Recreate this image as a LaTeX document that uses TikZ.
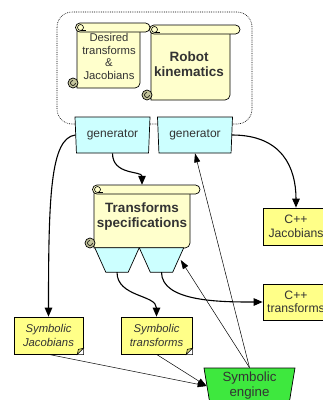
\documentclass[tikz,border=0pt]{standalone}
\usepackage{fontspec}
\setmainfont{Liberation Sans}
\usetikzlibrary{shapes.geometric,arrows.meta}
\definecolor{parchment}{HTML}{FFFFCC}
\definecolor{curlgray}{HTML}{C4C49C}
\definecolor{genblue}{HTML}{CCFFFF}
\definecolor{codeyellow}{HTML}{FFFF88}
\definecolor{foldyellow}{HTML}{D8D870}
\definecolor{enginegreen}{HTML}{3EE83E}
\definecolor{ink}{HTML}{333333}
\tikzset{
  paper/.style={fill=parchment,draw=black,line width=0.7pt},
  % rolled sheet: #1 width up to the end of the roll, #2 height
  pics/scroll/.style n args={2}{code={
    \filldraw[paper] (0,4) -- (0,#2) [rounded corners=5pt] -- (#1-10,#2) -- (#1-10,4) -- cycle;
    \filldraw[paper,rounded corners=4.5pt] (-1.5,0) rectangle (#1,9);
    \draw[line width=0.6pt] (3.5,4.5) circle (3);
    \draw[line width=0.6pt] (3.5,7.5) -- (9,7.5);
    \filldraw[paper,fill=curlgray] (-4,#2-5) circle (5);
    \draw[line width=0.6pt] (-1.5,#2-5) arc (0:270:2.5);
  }},
  sheettext/.style={align=center,text=ink,inner sep=0pt},
  gen/.style={trapezium,shape border rotate=180,trapezium stretches body,
    trapezium angle=82,minimum width=75pt,minimum height=36pt,inner sep=0pt,
    fill=genblue,draw=black,line width=0.7pt,text=ink,font=\fontsize{12}{14}\selectfont},
  hopper/.style={rectangle,minimum width=44pt,minimum height=24pt,inner sep=0pt},
  cppbox/.style={rectangle,fill=codeyellow,draw=black,line width=0.7pt,
    minimum width=66pt,minimum height=37pt,inner sep=0pt,align=center,text=ink,
    font=\fontsize{12.2}{13.5}\selectfont},
  note/.style={cppbox,font=\fontsize{11.3}{14}\selectfont\itshape},
  link/.style={line width=1.1pt,-{Triangle[length=9pt,width=7.5pt]}},
  feed/.style={line width=0.5pt,-{Triangle[length=9pt,width=6pt]}},
}
\begin{document}
\begin{tikzpicture}[x=1pt,y=-1pt]
\useasboundingbox (0,0) rectangle (323,400);
\clip (0,0) rectangle (323,400);
\fill[white] (0,0) rectangle (323,400);
%inputs
\draw[line width=0.6pt,dash pattern=on 0.8pt off 1pt,rounded corners=15pt] (57,12) rectangle (252,124);
\pic at (77,23) {scroll={73}{65}};
\pic at (151,25) {scroll={89}{75}};
\node[sheettext,font=\fontsize{11.3}{12.4}\selectfont,minimum width=63pt,minimum height=65pt] (desired) at (109,56.5) {Desired\\transforms\\\&\\Jacobians};
\node[sheettext,font=\fontsize{13.5}{15.5}\selectfont\bfseries,minimum width=79pt,minimum height=75pt] (robot) at (189,64) {Robot\\kinematics};
\node[gen] (gen1) at (112.5,135) {generator};
\node[gen] (gen2) at (195,135) {generator};
%specification
\pic at (94,185) {scroll={106}{63}};
\node[sheettext,font=\fontsize{13.5}{15.5}\selectfont\bfseries,minimum width=96pt,minimum height=63pt] (spec) at (142,216.5) {Transforms\\specifications};
\node[hopper] (tr1) at (117,260) {};
\node[hopper] (tr2) at (161.5,260) {};
\foreach \n in {tr1,tr2}
  \filldraw[fill=genblue,line width=0.7pt] (\n.north west) -- (\n.north east) -- ([xshift=-11pt]\n.south east) -- ([xshift=11pt]\n.south west) -- cycle;
%outputs
\node[cppbox] (cppjac) at (296,226.5) {C++\\Jacobians};
\node[cppbox,minimum height=36pt] (cpptr) at (296,302) {C++\\transforms};
\node[note,minimum width=69pt] (symjac) at (48.5,335.5) {Symbolic\\Jacobians};
\node[note,minimum width=71pt] (symtr) at (156.5,335.5) {Symbolic\\transforms};
\foreach \n in {symjac,symtr}{
  \fill[white] (\n.south east) -- ([yshift=6pt]\n.south east) -- ([xshift=-6pt]\n.south east) -- cycle;
  \filldraw[fill=foldyellow,line width=0.6pt] ([yshift=6pt]\n.south east) -- ([xshift=-5pt,yshift=5pt]\n.south east) -- ([xshift=-6pt]\n.south east) -- cycle;
}
\node[gen,fill=enginegreen,trapezium angle=77.7,minimum width=91pt,minimum height=36pt,
  align=center,font=\fontsize{13.3}{15}\selectfont] (engine) at (249.5,386) {Symbolic\\engine};
%arrows
\draw[link] (gen1.south) .. controls +(0,22) and +(0,-14) .. (spec.north);
\draw[link] (gen1.west) .. controls +(-25,3) and +(0,-120) .. (symjac.north);
\draw[link] (gen2.east) .. controls +(50,0) and +(0,-40) .. (cppjac.north);
\draw[link] (tr1.south) .. controls +(0,25) and +(0,-22) .. (symtr.north);
\draw[link] (tr2.south) .. controls +(0,30) and +(-40,0) .. (cpptr.west);
\draw[feed] (engine.north) -- ([xshift=-3pt]tr2.east);
\draw[feed] (engine.north) -- (gen2.south);
\draw[feed] (symjac.south) -- (engine.west);
\draw[feed] (symtr.south) -- (engine.west);
\end{tikzpicture}
\end{document}
